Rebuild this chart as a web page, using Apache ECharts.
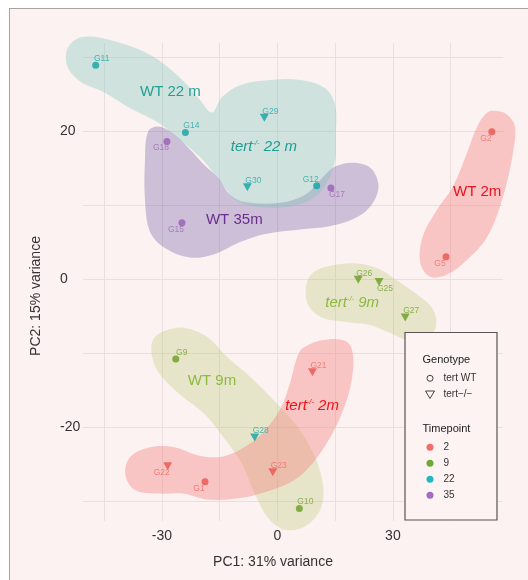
<!DOCTYPE html>
<html><head><meta charset="utf-8">
<script src="https://cdn.jsdelivr.net/npm/echarts@6/dist/echarts.min.js"></script>
<style>
html,body{margin:0;padding:0;background:#ffffff;}
#wrap{position:relative;width:528px;height:580px;overflow:hidden;background:#ffffff;}
#bg{position:absolute;left:9px;top:8px;width:530px;height:590px;background:#FCF2F1;border-left:1.5px solid #A9A2A2;border-top:1.5px solid #A9A2A2;}
#c{position:absolute;left:0;top:0;width:528px;height:580px;}
</style>
</head><body>
<div id="wrap"><div id="bg"></div><div id="c"></div></div>
<script>
// ---------- data ----------
const sampleIds = ['G11','G14','G18','G29','G30','G12','G17','G15','G2','G5','G26','G25','G27','G9','G21','G28','G22','G1','G23','G10'];
const pc1 = [-47.2,-23.9,-28.7,-3.4,-7.8,10.2,13.9,-24.8,55.7,43.8,21.0,26.4,33.2,-26.4,9.1,-5.9,-28.5,-18.8,-1.2,5.7];
const pc2 = [28.9,19.8,18.6,21.8,12.4,12.6,12.3,7.6,19.9,3.0,-0.1,-0.4,-5.2,-10.8,-12.6,-21.4,-25.3,-27.4,-26.1,-31.0];
const genotype = ['WT','WT','WT','tert','tert','WT','WT','WT','WT','WT','tert','tert','tert','WT','tert','tert','tert','WT','tert','WT'];
const timepoint = [22,22,35,22,22,22,35,35,2,2,9,9,9,9,2,22,2,2,2,9];
const labelSide = ['ur','ur','dl','ur','ur','ul','dr','dl','dl','dl','ur','dr','ur','ur','ur','ur','dl','dl','ur','ur'];

const xTickLabels = [-30,0,30];
const yTickLabels = [-20,0,20];
const xGridValues = [-45,-30,-15,0,15,30,45];
const yGridValues = [-30,-20,-10,0,10,20,30];

const timepointLevels = [2,9,22,35];
const genotypeLevels = ['tert WT','tert\u2212/\u2212'];

// hand-drawn group outlines (PC1, PC2 units)
const outlineTeal22 = [[-50.7,32.7],[-43.5,32.3],[-33.1,30.3],[-25.3,27.2],[-20.1,24.2],[-17.0,22.5],[-14.4,24.6],[-9.7,26.2],[-1.9,26.9],[5.9,26.9],[12.4,25.8],[15.0,23.5],[15.2,19.5],[15.0,16.1],[13.2,13.4],[9.8,11.1],[3.3,9.8],[-5.8,9.8],[-11.0,10.7],[-13.6,12.3],[-16.2,14.1],[-20.1,16.5],[-25.3,18.8],[-30.5,21.0],[-39.0,23.3],[-45.3,25.3],[-51.2,26.7],[-54.6,28.8],[-54.4,31.3]];
const outlineWT35 = [[-33.6,19.9],[-31.0,20.6],[-27.4,19.8],[-22.7,17.5],[-18.8,15.3],[-15.4,13.7],[-12.3,11.4],[-8.4,10.4],[0.7,10.3],[7.2,11.4],[11.1,13.4],[15.0,15.2],[20.2,15.7],[24.6,14.8],[26.2,12.1],[22.8,9.1],[15.0,7.3],[5.9,6.7],[-3.2,6.1],[-9.7,5.0],[-16.2,3.4],[-22.7,2.9],[-29.2,4.2],[-33.1,6.4],[-34.4,10.7],[-34.4,16.1]];
const outlineWT2 = [[57.1,22.7],[54.5,22.5],[51.9,20.6],[49.3,17.1],[45.6,12.5],[41.5,9.4],[37.8,5.8],[37.1,2.2],[39.7,0.3],[44.1,0.6],[49.3,2.6],[54.5,5.7],[58.6,11.1],[61.2,17.1],[61.7,20.6],[59.7,22.2]];
const outlineTert9 = [[9.3,0.9],[13.7,1.8],[20.7,2.1],[26.7,1.3],[31.9,-0.5],[37.1,-2.4],[40.4,-4.1],[41.2,-6.4],[38.6,-8.1],[34.0,-8.3],[29.3,-7.3],[24.1,-6.2],[17.6,-5.8],[11.6,-5.2],[8.0,-3.5],[7.5,-0.8]];
const outlineWT9 = [[-32.3,-8.2],[-29.2,-7.0],[-24.0,-6.6],[-18.3,-7.8],[-13.1,-10.5],[-7.1,-13.2],[-1.1,-16.3],[5.1,-19.9],[9.8,-24.1],[11.9,-28.1],[11.1,-31.2],[7.2,-33.4],[2.0,-33.9],[-2.4,-32.3],[-5.8,-29.1],[-9.2,-25.0],[-13.6,-21.7],[-18.8,-18.3],[-25.3,-15.6],[-30.5,-12.9],[-32.5,-10.6]];
const outlineTert2 = [[6.7,-9.3],[12.4,-8.2],[18.1,-8.5],[19.7,-10.6],[18.9,-14.7],[16.3,-18.7],[12.9,-22.1],[9.0,-25.0],[4.6,-27.1],[-1.4,-28.5],[-9.7,-29.6],[-18.3,-29.8],[-24.5,-29.0],[-30.5,-29.0],[-37.0,-28.5],[-39.5,-26.4],[-38.3,-24.1],[-33.6,-22.8],[-27.1,-22.7],[-20.1,-23.9],[-14.4,-24.0],[-9.2,-22.9],[-4.0,-20.9],[0.7,-17.6],[3.3,-14.0],[4.9,-10.9]];

const groupLabelTexts = ['WT 22 m','{i|tert}{s|-/-}{i| 22 m}','WT 35m','WT 2m','{i|tert}{s|-/-}{i| 9m}','WT 9m','{i|tert}{s|-/-}{i| 2m}'];
const groupLabelPC1 = [-27.8,-3.5,-11.2,51.9,19.4,-17.0,9.0];
const groupLabelPC2 = [25.3,17.9,8.0,11.8,-3.2,-13.7,-17.1];

// ---------- styles ----------
const FONT = 'Liberation Sans, Arial, Helvetica, sans-serif';
const pointColor = {2:'#E8554F',9:'#6A9B22',22:'#13A2A4',35:'#9A5CB4'};
const pointLabelColor = {2:'#EF6B66',9:'#73A22E',22:'#22A8AA',35:'#9C6DB5'};
const legendColor = {2:'#F06D6A',9:'#6FAA33',22:'#22B8BF',35:'#A36CC2'};
const groupLabelColors = ['#23A096','#1F9C94','#6A2E8E','#E8141E','#8CB83F','#8CBB3E','#F01218'];
const sideOffset = {ur:[6,-6.5],ul:[-6,-6.5],dl:[-6,6.5],dr:[6,6.5]};

function outlineSeries(points, fill, z) {
  return {
    type:'custom', coordinateSystem:'cartesian2d', clip:false, silent:true, z:z,
    data:[points[0]],
    renderItem:function(params, api){
      const pts = points.map(p => api.coord(p));
      return {type:'polygon', shape:{points:pts, smooth:0.35}, style:{fill:fill}};
    }
  };
}

const scatterData = sampleIds.map((id,i) => {
  const isWT = genotype[i] === 'WT';
  return {
    name:id,
    value:[pc1[i], pc2[i]],
    symbol: isWT ? 'circle' : 'triangle',
    symbolRotate: isWT ? 0 : 180,
    symbolSize: isWT ? 7 : [9,8],
    itemStyle:{color:pointColor[timepoint[i]]},
    label:{show:true, formatter:id, position:'inside', offset:sideOffset[labelSide[i]],
      color:pointLabelColor[timepoint[i]], fontSize:8.5, fontFamily:FONT, align:'center', verticalAlign:'middle'}
  };
});

const groupLabelData = groupLabelTexts.map((t,i) => [groupLabelPC1[i], groupLabelPC2[i], i]);

const chart = echarts.init(document.getElementById('c'), null, {renderer:'canvas'});

const legendX = 405, legendY = 332.5, LZ = 100;
const legendElems = [
  {type:'rect', z:LZ, shape:{x:legendX, y:legendY, width:92, height:187.5}, style:{fill:'#FCF3F2', stroke:'#575555', lineWidth:1.2}},
  {type:'text', z:LZ+1, x:legendX+17.5, y:legendY+27, style:{text:'Genotype', fill:'#222', font:'11px '+FONT, verticalAlign:'middle'}},
  {type:'circle', z:LZ+1, shape:{cx:legendX+25, cy:legendY+45.8, r:3}, style:{fill:'none', stroke:'#444', lineWidth:1}},
  {type:'text', z:LZ+1, x:legendX+38.5, y:legendY+45.8, style:{text:genotypeLevels[0], fill:'#333', font:'10px '+FONT, verticalAlign:'middle'}},
  {type:'polygon', z:LZ+1, shape:{points:[[legendX+20.5,legendY+58.5],[legendX+29.5,legendY+58.5],[legendX+25,legendY+66]]}, style:{fill:'none', stroke:'#444', lineWidth:1}},
  {type:'text', z:LZ+1, x:legendX+38.5, y:legendY+61.5, style:{text:genotypeLevels[1], fill:'#333', font:'10px '+FONT, verticalAlign:'middle'}},
  {type:'text', z:LZ+1, x:legendX+17.5, y:legendY+96.5, style:{text:'Timepoint', fill:'#222', font:'11px '+FONT, verticalAlign:'middle'}}
];
timepointLevels.forEach((tp,k) => {
  const cy = legendY + 114.8 + k*16;
  legendElems.push({type:'circle', z:LZ+1, shape:{cx:legendX+25, cy:cy, r:3.5}, style:{fill:legendColor[tp]}});
  legendElems.push({type:'text', z:LZ+1, x:legendX+38.5, y:cy, style:{text:String(tp), fill:'#333', font:'10px '+FONT, verticalAlign:'middle'}});
});

const option = {
  backgroundColor:'transparent',
  animation:false,
  grid:{left:83, right:25, top:43, bottom:59, containLabel:false, outerBoundsMode:'none'},
  xAxis:{
    type:'value', min:-50.5, max:58.6,
    axisLine:{show:false},
    axisTick:{show:false, customValues:xGridValues},
    axisLabel:{customValues:xTickLabels, fontSize:14, color:'#333', fontFamily:FONT, margin:8},
    splitLine:{show:true, lineStyle:{color:'#EADFDE', width:1}}
  },
  yAxis:{
    type:'value', min:-32.7, max:31.9,
    axisLine:{show:false},
    axisTick:{show:false, customValues:yGridValues},
    axisLabel:{customValues:yTickLabels, fontSize:14, color:'#333', fontFamily:FONT, margin:23, align:'left'},
    splitLine:{show:true, lineStyle:{color:'#EADFDE', width:1}}
  },
  graphic:{
    elements:[
      {type:'text', x:273, y:562, z:50, style:{text:'PC1: 31% variance', fill:'#333', font:'14px '+FONT, align:'center', verticalAlign:'middle'}},
      {type:'text', x:36.5, y:296, rotation:Math.PI/2, z:50, style:{text:'PC2: 15% variance', fill:'#333', font:'14px '+FONT, align:'center', verticalAlign:'middle'}}
    ].concat(legendElems)
  },
  series:[
    outlineSeries(outlineWT35, 'rgba(120,100,170,0.36)', 1),
    outlineSeries(outlineTeal22, 'rgba(120,195,185,0.34)', 1),
    outlineSeries(outlineWT2, 'rgba(245,120,120,0.37)', 1),
    outlineSeries(outlineTert9, 'rgba(170,195,90,0.26)', 1),
    outlineSeries(outlineWT9, 'rgba(170,195,90,0.26)', 1),
    outlineSeries(outlineTert2, 'rgba(245,120,120,0.37)', 1),
    {
      type:'scatter', z:5, data:scatterData, silent:true
    },
    {
      type:'custom', coordinateSystem:'cartesian2d', clip:false, silent:true, z:6,
      data:groupLabelData,
      renderItem:function(params, api){
        const i = api.value(2);
        const p = api.coord([api.value(0), api.value(1)]);
        const col = groupLabelColors[i];
        return {type:'text', x:p[0], y:p[1], style:{
          text:groupLabelTexts[i], fill:col, fontSize:15, fontFamily:FONT,
          align:'center', verticalAlign:'middle',
          rich:{
            i:{fontStyle:'italic', fontSize:15, fontFamily:FONT, fill:col, color:col},
            s:{fontStyle:'italic', fontSize:7.5, fontFamily:FONT, fill:col, color:col, verticalAlign:'top', padding:[0,0,7,0]}
          }
        }};
      }
    }
  ]
};
chart.setOption(option);
</script>
</body></html>
